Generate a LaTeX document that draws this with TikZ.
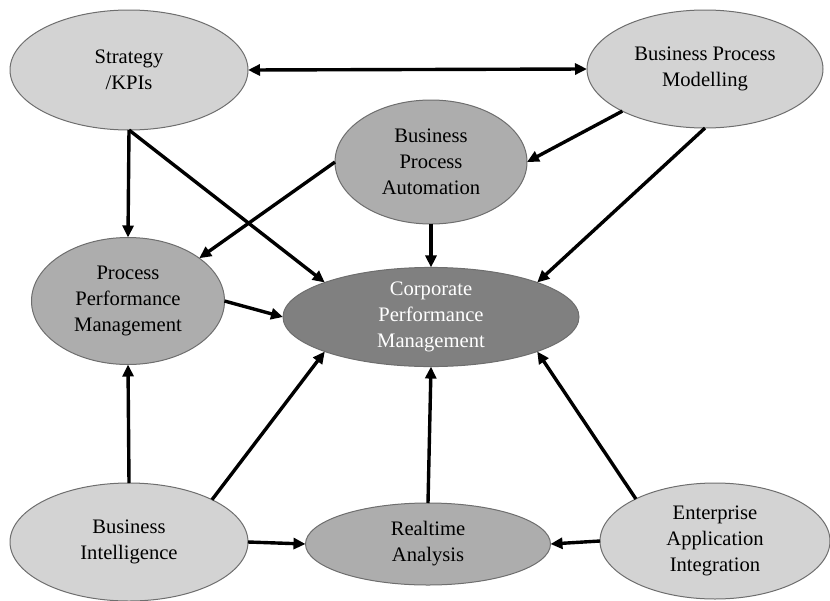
\documentclass[tikz,border=0pt]{standalone}
\usepackage{fontspec}
\setmainfont{Liberation Serif}
\usetikzlibrary{shapes.geometric,arrows.meta}
\definecolor{lightfill}{HTML}{D3D3D3}
\definecolor{midfill}{HTML}{ADADAD}
\definecolor{darkfill}{HTML}{808080}
\definecolor{rimgray}{HTML}{6E6E6E}
\begin{document}
\begin{tikzpicture}[x=0.5pt,y=-0.5pt,line join=round,>={Triangle[length=6pt,width=5.5pt]},line width=1.7pt]
	\tikzset{every node/.style={ellipse,draw=rimgray,line width=0.5pt,inner sep=0pt,outer sep=0pt,align=center,font=\fontsize{10.3}{13}\selectfont}}
	\tikzset{light/.style={fill=lightfill},mid/.style={fill=midfill},dark/.style={fill=darkfill,text=white}}
	\useasboundingbox (0,0) rectangle (830,600);
	\node[light,minimum width=119pt,minimum height=60pt] (kpi) at (129,70) {Strategy\\/KPIs};
	\node[light,minimum width=118pt,minimum height=59pt] (bpm) at (705,69) {Business Process\\Modelling};
	\node[mid,minimum width=96pt,minimum height=62pt] (bpa) at (431,162) {Business\\Process\\Automation};
	\node[mid,minimum width=96.5pt,minimum height=63.5pt] (ppm) at (128,301) {Process\\Performance\\Management};
	\node[dark,minimum width=148pt,minimum height=48pt] (cpm) at (431,317) {Corporate\\Performance\\Management};
	\node[light,minimum width=119pt,minimum height=59pt] (bi) at (129,542) {Business\\Intelligence};
	\node[mid,minimum width=122.5pt,minimum height=41pt] (ra) at (428,544) {Realtime\\Analysis};
	\node[light,minimum width=115pt,minimum height=58pt] (eai) at (715,541) {Enterprise\\Application\\Integration};
	\draw[<->] (kpi.east) -- (bpm.west);
	\draw[->] (kpi.south) -- (ppm.north);
	\draw[->] (kpi.south) -- (cpm.162);
	\draw[->] (bpm.207) -- (bpa.east);
	\draw[->] (bpm.south) -- (cpm.18);
	\draw[->] (bpa.west) -- (ppm.31);
	\draw[->] (bpa.south) -- (cpm.north);
	\draw[->] (ppm.east) -- (cpm.west);
	\draw[->] (bi.north) -- (ppm.south);
	\draw[->] (bi.27) -- (cpm.198);
	\draw[->] (bi.east) -- (ra.west);
	\draw[->] (ra.north) -- (cpm.south);
	\draw[->] (eai.152) -- (cpm.342);
	\draw[->] (eai.west) -- (ra.east);
\end{tikzpicture}
\end{document}
